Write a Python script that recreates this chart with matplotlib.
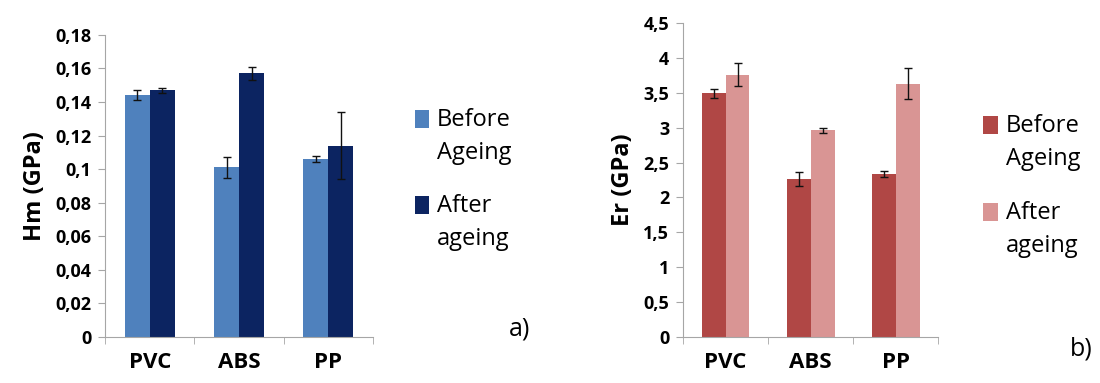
import numpy as np
import matplotlib.pyplot as plt
from matplotlib.ticker import FuncFormatter, FixedLocator

plt.rcParams['font.family'] = ['Open Sans', 'DejaVu Sans']

materials = ['PVC', 'ABS', 'PP']
legend_labels = ['Before\nAgeing', 'After\nageing']

hm_before = [0.144, 0.101, 0.106]
hm_before_err = [0.003, 0.0065, 0.002]
hm_after = [0.147, 0.157, 0.114]
hm_after_err = [0.0015, 0.004, 0.020]

er_before = [3.49, 2.27, 2.34]
er_before_err = [0.07, 0.10, 0.04]
er_after = [3.76, 2.96, 3.63]
er_after_err = [0.16, 0.03, 0.22]

fig = plt.figure(figsize=(11, 3.83), dpi=100)
axA = fig.add_axes([0.0955, 0.120, 0.2436, 0.789])
axB = fig.add_axes([0.621, 0.120, 0.232, 0.820])

gray = '#a6a6a6'
comma = FuncFormatter(lambda v, p: ('%g' % round(v, 4)).replace('.', ','))


def draw(ax, before, berr, after, aerr, cols, ymax, ystep, ylabel, legpos):
    x = np.arange(len(materials)) + 0.5
    w = 0.28
    b1 = ax.bar(x - w / 2, before, w, color=cols[0], yerr=berr, capsize=3,
                error_kw=dict(elinewidth=1, capthick=1, ecolor='#111111'))
    b2 = ax.bar(x + w / 2, after, w, color=cols[1], yerr=aerr, capsize=3,
                error_kw=dict(elinewidth=1, capthick=1, ecolor='#111111'))
    ax.set_xlim(0, len(materials))
    ax.set_ylim(0, ymax)
    ax.set_yticks(np.arange(0, ymax + ystep / 2, ystep))
    ax.yaxis.set_major_formatter(comma)
    ax.set_xticks(x)
    ax.set_xticklabels(materials, fontweight='bold', fontsize=16)
    ax.xaxis.set_minor_locator(FixedLocator(np.arange(len(materials) + 1)))
    ax.tick_params(axis='x', which='major', length=0, pad=11)
    ax.tick_params(axis='x', which='minor', length=5, color=gray, direction='out')
    ax.tick_params(axis='y', length=5, color=gray, labelsize=13, pad=5)
    for t in ax.get_yticklabels():
        t.set_fontweight('bold')
    for s in ['top', 'right']:
        ax.spines[s].set_visible(False)
    for s in ['left', 'bottom']:
        ax.spines[s].set_color(gray)
    ax.set_ylabel(ylabel, fontweight='bold', fontsize=17, labelpad=6)
    leg = ax.legend([b1, b2], legend_labels, loc='upper left', bbox_to_anchor=legpos,
                    frameon=False, fontsize=17, handlelength=0.6, handleheight=0.6,
                    handletextpad=0.35, labelspacing=1.25, borderaxespad=0)
    for t in leg.get_texts():
        t.set_linespacing(1.5)
    for h in leg.legend_handles:
        h.set_height(13)
        h.set_y(h.get_y() + 12)
    return ax


draw(axA, hm_before, hm_before_err, hm_after, hm_after_err,
     ['#4f81bd', '#0c2461'], 0.18, 0.02, 'Hm (GPa)', (1.12, 0.79))
draw(axB, er_before, er_before_err, er_after, er_after_err,
     ['#b04745', '#d99594'], 4.5, 0.5, 'Er (GPa)', (1.14, 0.74))

fig.text(0.463, 0.14, 'a)', fontsize=18, ha='left', va='center')
fig.text(0.973, 0.09, 'b)', fontsize=18, ha='left', va='center')

fig.savefig('out.png', dpi=100)
